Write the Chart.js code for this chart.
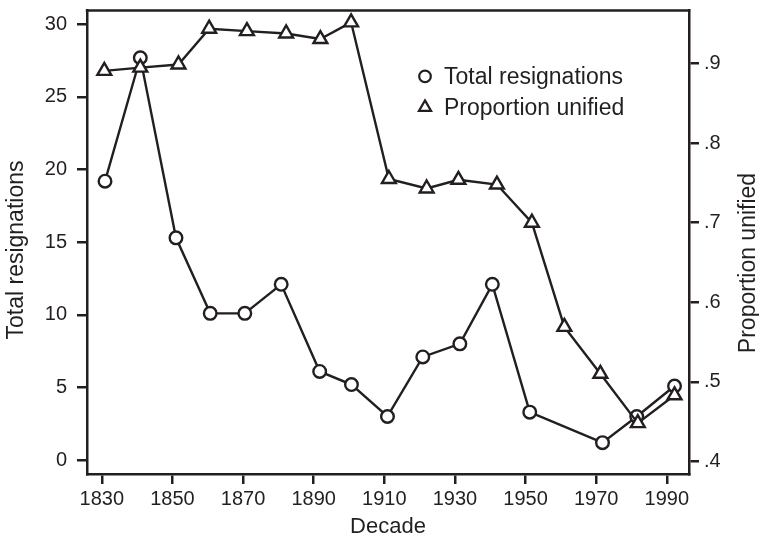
<!DOCTYPE html>
<html>
<head>
<meta charset="utf-8">
<script src="https://cdn.jsdelivr.net/npm/chart.js@4.4.1/dist/chart.umd.min.js"></script>
<style>
html, body { margin: 0; padding: 0; background: #fff; }
#wrap { width: 759px; height: 539px; }
</style>
</head>
<body>
<div id="wrap"><canvas id="chart" width="759" height="539"></canvas></div>
<script>
// Data
const resignDecades = [1830.9, 1840.9, 1851.0, 1860.7, 1870.5, 1880.8, 1891.7, 1900.7, 1910.9, 1920.9, 1931.4, 1940.6, 1951.2, 1971.8, 1981.5, 1992.2];
const resignTotals = [19.2, 27.7, 15.3, 10.1, 10.1, 12.1, 6.1, 5.2, 3.0, 7.1, 8.0, 12.1, 3.3, 1.2, 3.0, 5.1];

const unifiedDecades = [1830.7, 1840.9, 1851.7, 1860.4, 1871.1, 1882.2, 1891.9, 1900.6, 1911.3, 1922.0, 1931.0, 1941.9, 1951.8, 1961.0, 1971.2, 1981.8, 1992.2];
const unifiedShares = [0.891, 0.895, 0.899, 0.944, 0.941, 0.938, 0.931, 0.952, 0.755, 0.743, 0.754, 0.748, 0.700, 0.569, 0.510, 0.448, 0.483];

const decadeTicks = [1830, 1850, 1870, 1890, 1910, 1930, 1950, 1970, 1990];
const totalTicks = [0, 5, 10, 15, 20, 25, 30];
const shareTicks = [0.4, 0.5, 0.6, 0.7, 0.8, 0.9];

const ink = '#231f20';
const fontFamily = '"Liberation Sans", Arial, Helvetica, sans-serif';

Chart.defaults.font.family = fontFamily;
Chart.defaults.color = ink;

const toPoints = (xs, ys) => xs.map((x, i) => ({ x: x, y: ys[i] }));
const fixTicks = list => scale => { scale.ticks = list.map(v => ({ value: v })); };

// línea superior del marco
const topBorder = {
    id: 'topBorder',
    afterDraw(chart) {
        const { ctx, chartArea } = chart;
        ctx.save();
        ctx.strokeStyle = ink;
        ctx.lineWidth = 2.5;
        ctx.beginPath();
        ctx.moveTo(chartArea.left - 1.2, chartArea.top);
        ctx.lineTo(chartArea.right + 1.2, chartArea.top);
        ctx.stroke();
        ctx.restore();
    }
};

// títulos verticales, los dos leídos de abajo hacia arriba
const sideTitles = {
    id: 'sideTitles',
    afterDraw(chart) {
        const { ctx } = chart;
        const draw = (text, x, y) => {
            ctx.save();
            ctx.translate(x, y);
            ctx.rotate(-Math.PI / 2);
            ctx.fillStyle = ink;
            ctx.font = '23px ' + fontFamily;
            ctx.textAlign = 'center';
            ctx.textBaseline = 'middle';
            ctx.fillText(text, 0, 0);
            ctx.restore();
        };
        draw('Total resignations', 17, 250);
        draw('Proportion unified', 749, 263);
    }
};

// leyenda dentro del área del gráfico
const innerLegend = {
    id: 'innerLegend',
    afterDraw(chart) {
        const { ctx, chartArea } = chart;
        const mx = chartArea.left + 338;
        const tx = chartArea.left + 357;
        const y1 = chartArea.top + 66;
        const y2 = chartArea.top + 97;
        ctx.save();
        ctx.strokeStyle = ink;
        ctx.fillStyle = '#fff';
        ctx.lineWidth = 2.2;
        ctx.beginPath();
        ctx.arc(mx, y1, 5.8, 0, Math.PI * 2);
        ctx.fill();
        ctx.stroke();
        const r = 7;
        ctx.beginPath();
        ctx.moveTo(mx, y2 - r);
        ctx.lineTo(mx + r * 0.866, y2 + r / 2);
        ctx.lineTo(mx - r * 0.866, y2 + r / 2);
        ctx.closePath();
        ctx.fill();
        ctx.stroke();
        ctx.fillStyle = ink;
        ctx.font = '23px ' + fontFamily;
        ctx.textAlign = 'left';
        ctx.textBaseline = 'middle';
        ctx.fillText('Total resignations', tx, y1 + 1);
        ctx.fillText('Proportion unified', tx, y2 + 1);
        ctx.restore();
    }
};

const axisGrid = { drawOnChartArea: false, drawTicks: true, tickLength: 10, lineWidth: 2.5, color: ink };
const axisBorder = { display: true, color: ink, width: 2.5 };

const fitVertical = w => s => { s.width = w; s.paddingTop = 0; s.paddingBottom = 0; };

new Chart(document.getElementById('chart').getContext('2d'), {
    type: 'line',
    data: {
        datasets: [{
            label: 'Total resignations',
            data: toPoints(resignDecades, resignTotals),
            yAxisID: 'y',
            borderColor: ink,
            borderWidth: 2.4,
            pointStyle: 'circle',
            pointRadius: 6.3,
            pointBorderWidth: 2.4,
            pointBackgroundColor: '#fff',
            pointBorderColor: ink,
            tension: 0,
            order: 1
        }, {
            label: 'Proportion unified',
            data: toPoints(unifiedDecades, unifiedShares),
            yAxisID: 'y1',
            borderColor: ink,
            borderWidth: 2.4,
            pointStyle: 'triangle',
            pointRadius: 8,
            pointBorderWidth: 2.4,
            pointBackgroundColor: '#fff',
            pointBorderColor: ink,
            tension: 0,
            order: 0
        }]
    },
    options: {
        responsive: false,
        animation: false,
        layout: { padding: { top: 7, left: 0, right: 0, bottom: 0 } },
        plugins: {
            legend: { display: false },
            tooltip: { enabled: false }
        },
        scales: {
            x: {
                type: 'linear',
                position: 'bottom',
                min: 1825.8,
                max: 1996.3,
                afterBuildTicks: fixTicks(decadeTicks),
                afterFit: s => { s.height = 65; s.paddingLeft = 0; s.paddingRight = 0; },
                ticks: {
                    font: { size: 20 },
                    padding: 3,
                    maxRotation: 0,
                    autoSkip: false,
                    callback: v => String(v)
                },
                grid: axisGrid,
                border: axisBorder,
                title: { display: true, text: 'Decade', font: { size: 22, lineHeight: 1 }, padding: { top: 0, bottom: 1 } }
            },
            y: {
                position: 'left',
                min: -0.96,
                max: 30.96,
                afterBuildTicks: fixTicks(totalTicks),
                afterFit: fitVertical(87),
                ticks: { font: { size: 20 }, padding: 10, callback: v => String(v) },
                grid: axisGrid,
                border: axisBorder
            },
            y1: {
                position: 'right',
                min: 0.384,
                max: 0.967,
                afterBuildTicks: fixTicks(shareTicks),
                afterFit: fitVertical(70),
                ticks: { font: { size: 20 }, padding: 5, callback: v => v.toFixed(1).replace(/^0/, '') },
                grid: axisGrid,
                border: axisBorder
            }
        }
    },
    plugins: [topBorder, sideTitles, innerLegend]
});
</script>
</body>
</html>
